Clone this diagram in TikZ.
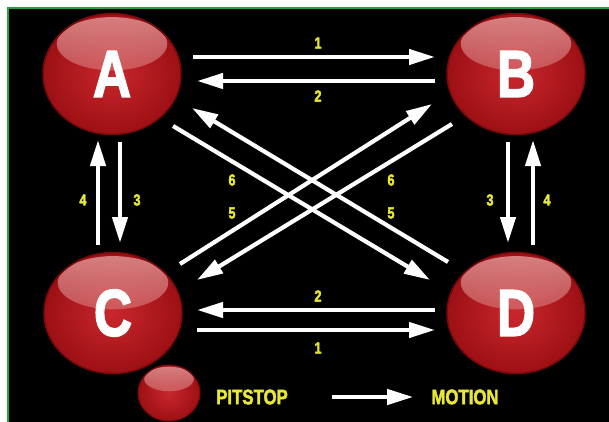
\documentclass[tikz,border=0pt]{standalone}
\usepackage{fontspec}
\usepackage{graphicx}
\newfontfamily\heavyfont{Liberation Sans}[BoldFeatures={FakeBold=2.5}]
\usetikzlibrary{shapes.geometric,arrows.meta,calc,fadings}
\definecolor{ballred}{RGB}{196,20,26}
\definecolor{balldark}{RGB}{120,8,10}
\definecolor{ballshine}{RGB}{226,150,150}
\definecolor{numyellow}{RGB}{232,232,50}
\definecolor{framegreen}{RGB}{40,160,60}
\newcommand{\narrow}[1]{\scalebox{0.8}[1]{#1}}
\tikzset{
	pitstop/.style={ellipse, draw=balldark, line width=1.5pt, inner sep=0pt,
		inner color=ballred!92!white, outer color=ballred!80!black,
		minimum width=138pt, minimum height=121pt, text=white,
		font=\heavyfont\bfseries\fontsize{66}{66}\selectfont,
		path picture={
			\fill[ballshine, path fading=south, fill opacity=0.85]
				let \p1=(path picture bounding box.north east), \p2=(path picture bounding box.south west),
				\n1={0.5*(\x1-\x2)}, \n2={0.5*(\y1-\y2)} in
				($(path picture bounding box.center)+(0,0.5*\n2)$) ellipse [x radius=0.8*\n1, y radius=0.44*\n2];
		}},
	smallstop/.style={pitstop, minimum width=62pt, minimum height=56pt, line width=1pt},
	motion/.style={draw=white, line width=4.2pt, -{Triangle[length=26pt,width=15pt]}},
	num/.style={text=numyellow, inner sep=0pt, font=\heavyfont\bfseries\fontsize{16}{16}\selectfont},
	legendtext/.style={text=numyellow, inner sep=0pt, font=\heavyfont\bfseries\fontsize{21}{21}\selectfont}
}
\begin{document}
\begin{tikzpicture}[x=1pt,y=-1pt]
		\useasboundingbox (0,0) rectangle (609,422);
		\fill[white] (0,0) rectangle (609,422);
		\fill[black] (8,8) rectangle (609,422);
		\draw[framegreen, line width=1.5pt] (8,422) -- (8,8) -- (609,8);
		
		\node[pitstop] (A) at (112,74) {\narrow{A}};
		\node[pitstop] (B) at (516,74) {\narrow{B}};
		\node[pitstop] (C) at (113,313) {\narrow{C}};
		\node[pitstop] (D) at (516,313) {\narrow{D}};
		
		\draw[motion] ($(A)+(81,-17)$) -- ($(B)+(-81,-17)$);
		\draw[motion] ($(B)+(-81,7)$) -- ($(A)+(85,7)$);
		\node[num] (ab1) at (318,43) {\narrow{1}};
		\node[num] (ab2) at (318,96) {\narrow{2}};
		
		\draw[motion] ($(D)+(-81,-3)$) -- ($(C)+(84,-3)$);
		\draw[motion] ($(C)+(84,17)$) -- ($(D)+(-81,17)$);
		\node[num] (cd2) at (318,296) {\narrow{2}};
		\node[num] (cd1) at (318,348) {\narrow{1}};
		
		\draw[motion] ($(C)+(-15,-68)$) -- ($(A)+(-14,66)$);
		\draw[motion] ($(A)+(8,68)$) -- ($(C)+(7,-70)$);
		\node[num] (ac4) at (83,200) {\narrow{4}};
		\node[num] (ac3) at (137,200) {\narrow{3}};
		
		\draw[motion] ($(B)+(-8,68)$) -- ($(D)+(-8,-70)$);
		\draw[motion] ($(D)+(17,-68)$) -- ($(B)+(17,66)$);
		\node[num] (bd3) at (490,200) {\narrow{3}};
		\node[num] (bd4) at (547,200) {\narrow{4}};
		
		\draw[motion] ($(A)+(61,52)$) -- ($(D)+(-86,-33)$);
		\draw[motion] ($(D)+(-68,-51)$) -- ($(A)+(80,34)$);
		\draw[motion] ($(C)+(67,-49)$) -- ($(B)+(-84,30)$);
		\draw[motion] ($(B)+(-64,50)$) -- ($(C)+(84,-33)$);
		\node[num] (ad6) at (232,180) {\narrow{6}};
		\node[num] (ad5) at (232,213) {\narrow{5}};
		\node[num] (bc6) at (391,180) {\narrow{6}};
		\node[num] (bc5) at (391,213) {\narrow{5}};
		
		\node[smallstop] (P) at (169,393) {};
		\node[legendtext] (pit) at (252,397) {\narrow{PITSTOP}};
		\node[legendtext] (mot) at (465,397) {\narrow{MOTION}};
		\draw[motion] ([xshift=44pt]pit.east) -- ([xshift=-18pt]mot.west);
	\end{tikzpicture}
\end{document}
